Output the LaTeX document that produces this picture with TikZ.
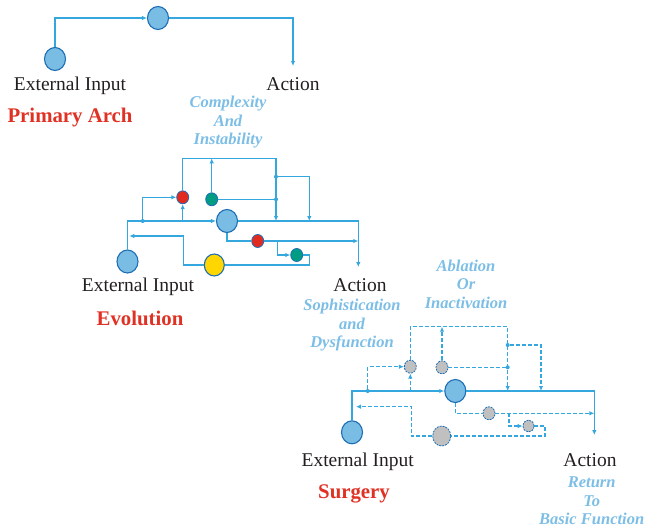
\documentclass[tikz,border=0pt]{standalone}
\usepackage{fontspec}
\setmainfont{Liberation Serif}
\usepackage{xcolor}
\usepackage{tikz}
\usetikzlibrary{shapes.geometric, arrows.meta}
\definecolor{wireblue}{RGB}{52,168,222}
\definecolor{cellblue}{RGB}{122,189,228}
\definecolor{rimblue}{RGB}{29,110,180}
\definecolor{redcell}{RGB}{226,43,32}
\definecolor{greencell}{RGB}{0,156,132}
\definecolor{yellowcell}{RGB}{255,214,0}
\definecolor{ghostgrey}{RGB}{192,192,192}
\definecolor{titlered}{RGB}{224,50,36}
\definecolor{noteblue}{RGB}{124,190,230}
\definecolor{inkgrey}{RGB}{35,31,32}

\begin{document}
\begin{tikzpicture}[x=1pt, y=-1pt,
  neuron/.style={ellipse, draw=rimblue, fill=cellblue, line width=1.1pt,
                 inner sep=0pt, minimum width=21pt, minimum height=23pt},
  minor/.style={ellipse, draw=rimblue, line width=0.8pt, inner sep=0pt,
                minimum width=12pt, minimum height=13pt},
  ghost/.style={minor, fill=ghostgrey, dash pattern=on 2pt off 1pt},
  dot/.style={circle, fill=wireblue, inner sep=0pt, minimum size=4pt},
  wire/.style={draw=wireblue, line width=1.2pt},
  dwire/.style={wire, dash pattern=on 4pt off 2pt},
  arrow/.style={-{Latex[length=5pt,width=4.5pt]}},
  lbl/.style={font=\fontsize{19.5}{22}\selectfont, text=inkgrey, anchor=base},
  ttl/.style={font=\fontsize{20.8}{23}\selectfont\bfseries, text=titlered, anchor=base},
  note/.style={font=\fontsize{16.5}{18.5}\selectfont\bfseries\itshape,
               text=noteblue, align=center}
]
\useasboundingbox (0,0) rectangle (647,527);

% Primary arch
\node[neuron] (in1) at (55,59) {};
\node[neuron] (hub1) at (158,18) {};
\coordinate (out1) at (293,66);
\draw[wire, arrow] (in1) |- (hub1);
\draw[wire, arrow] (hub1) -| (out1);
\node[lbl] (ext1) at (70,90) {External Input};
\node[lbl] (act1) at (293,90) {Action};
\node[ttl] (arch) at (70,122.5) {Primary Arch};
\node[note] (cplx) at (228,122.5) {Complexity\\And\\Instability};

% Evolution
\node[neuron] (in2) at (127.5,261.5) {};
\node[neuron] (hub2) at (227,221) {};
\node[minor, fill=redcell] (r2a) at (182.7,197.3) {};
\node[minor, fill=greencell] (g2a) at (211.7,199.3) {};
\node[minor, fill=redcell] (r2b) at (257.7,241) {};
\node[minor, fill=greencell] (g2b) at (296.7,255) {};
\node[neuron, fill=yellowcell, minimum width=20pt, minimum height=22pt] (y2) at (214.3,265) {};
\coordinate (out2) at (358.3,267);
\coordinate (top2) at (276,158.3);
\node[dot] (d2a) at (142.7,221) {};
\coordinate (j2b) at (182.7,221);
\node[dot] (d2b) at (276,176.7) {};
\node[dot] (d2c) at (276,199.3) {};
\coordinate (t2a) at (276,221);
\coordinate (t2b) at (309.3,221);
\coordinate (j2c) at (277.7,241);
\coordinate (loop2) at (309.3,265);
\coordinate (bend2) at (183.3,236);
\coordinate (back2) at (129.3,236);

\draw[wire, arrow] (in2) |- (hub2);
\draw[wire, arrow] (d2a) |- (r2a);
\draw[wire, arrow] (j2b) -- (r2a);
\draw[wire, arrow] (r2a) |- (top2) -- (t2a);
\draw[wire, arrow] (d2b) -| (t2b);
\draw[wire] (g2a) -- (d2c);
\draw[wire, arrow] (g2a) -- (g2a |- top2);
\draw[wire, arrow] (hub2) -| (out2);
\draw[wire] (hub2) |- (r2b);
\draw[wire, arrow] (r2b) -- (r2b -| out2);
\draw[wire, arrow] (j2c) |- (g2b);
\draw[wire] (g2b) -| (loop2) -- (y2);
\draw[wire, arrow] (y2) -| (bend2) -- (back2);

\node[lbl] (ext2) at (138,291.5) {External Input};
\node[lbl] (act2) at (360,291.5) {Action};
\node[ttl] (evo) at (140,325) {Evolution};
\node[note] (soph) at (352,325.5) {Sophistication\\and\\Dysfunction};

% Surgery
\node[neuron] (in3) at (352,432.3) {};
\node[neuron] (hub3) at (455.3,391) {};
\node[ghost] (g3a) at (410.3,366.7) {};
\node[ghost] (g3b) at (442,367.3) {};
\node[ghost] (g3c) at (489,413.3) {};
\node[ghost, minimum width=11pt, minimum height=12pt] (g3d) at (528.5,426) {};
\node[ghost, minimum width=18pt, minimum height=20pt] (g3e) at (441.7,436) {};
\coordinate (out3) at (594.3,435);
\coordinate (top3) at (507.7,326.7);
\node[dot] (d3a) at (367.7,391) {};
\coordinate (j3b) at (410.3,391);
\node[dot] (d3b) at (507.7,345) {};
\node[dot] (d3c) at (507.7,367.3) {};
\coordinate (t3a) at (507.7,391);
\coordinate (t3b) at (541,391);
\coordinate (j3c) at (509,413.3);
\coordinate (loop3) at (545,436);
\coordinate (bend3) at (411.7,406.7);
\coordinate (back3) at (356,406.7);

\draw[wire, arrow] (in3) |- (hub3);
\draw[wire, arrow] (hub3) -| (out3);
\draw[dwire, arrow] (d3a) |- (g3a);
\draw[dwire, arrow] (j3b) -- (g3a);
\draw[dwire, arrow] (g3a) |- (top3) -- (t3a);
\draw[dwire, arrow] (d3b) -| (t3b);
\draw[dwire] (g3b) -- (d3c);
\draw[dwire, arrow] (g3b) -- (g3b |- top3);
\draw[dwire] (hub3) |- (g3c);
\draw[dwire, arrow] (g3c) -- (g3c -| out3);
\draw[dwire, arrow] (j3c) |- (g3d);
\draw[dwire] (g3d) -| (loop3) -- (g3e);
\draw[dwire, arrow] (g3e) -| (bend3) -- (back3);

\node[lbl] (ext3) at (357.7,466) {External Input};
\node[lbl] (act3) at (590,466) {Action};
\node[ttl] (surg) at (354,498.3) {Surgery};
\node[note] (abl) at (466,284) {Ablation\\Or\\Inactivation};
\node[note] (ret) at (591.7,501) {Return\\To\\Basic Function};

\end{tikzpicture}
\end{document}
